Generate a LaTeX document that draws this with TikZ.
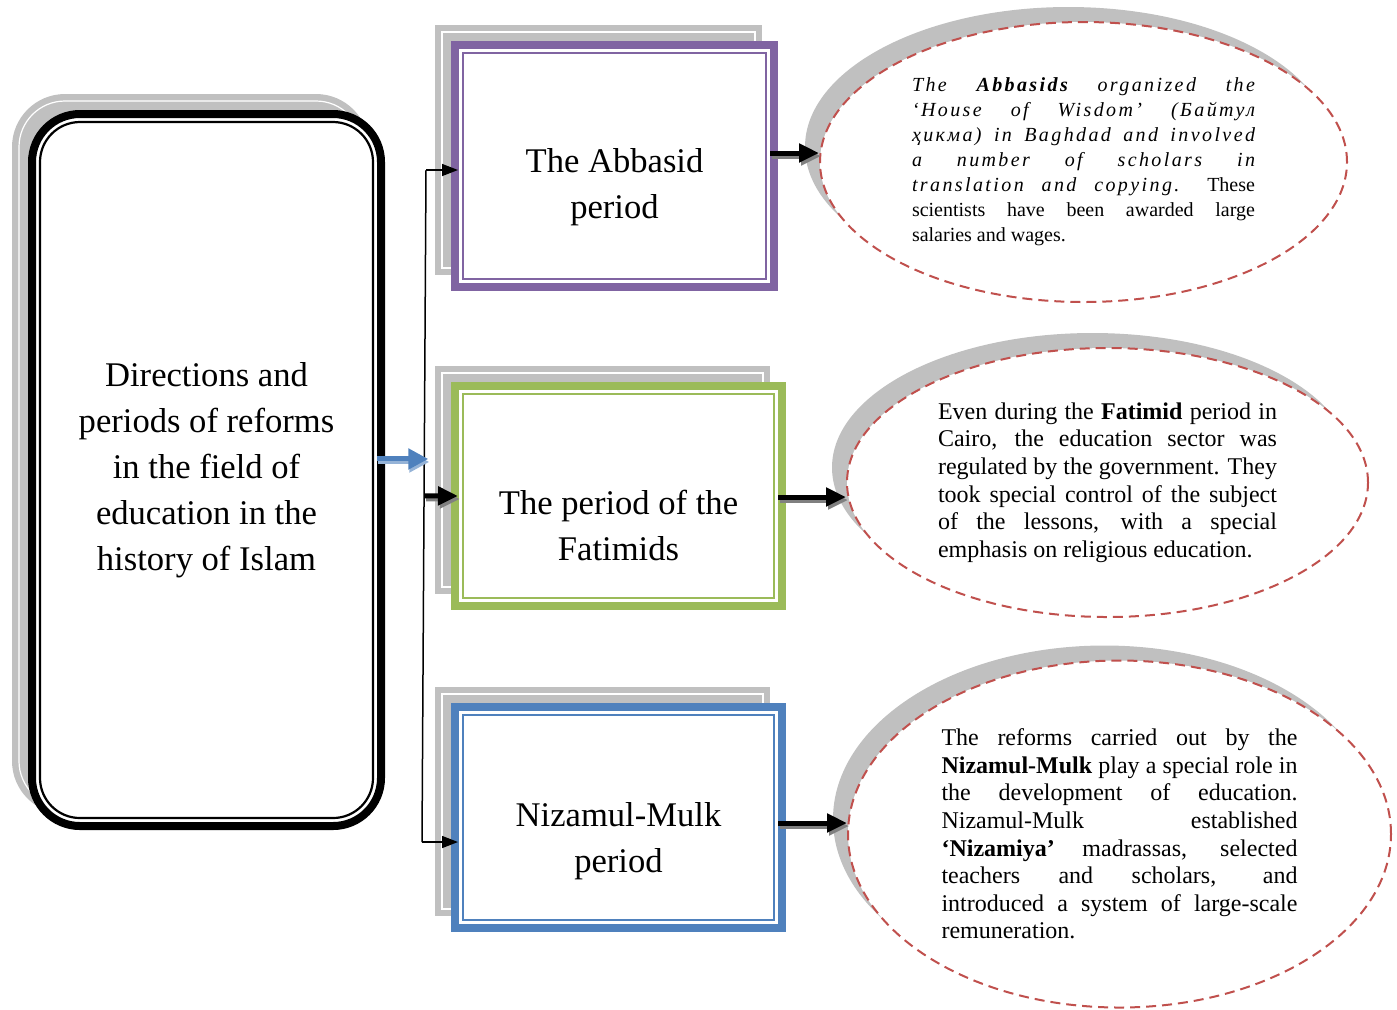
\documentclass[tikz,border=0pt]{standalone}
\usepackage{fontspec}
\setmainfont{Liberation Serif}
\usetikzlibrary{shapes.geometric, arrows.meta, shadows, backgrounds, calc}
\definecolor{abbpurple}{HTML}{8064A2}
\definecolor{fatgreen}{HTML}{9BBB59}
\definecolor{nizblue}{HTML}{4F81BD}
\definecolor{lightblue}{HTML}{95B3D7}
\definecolor{dashred}{HTML}{C0504D}
\definecolor{shadowgray}{HTML}{C0C0C0}

\tikzset{
	periodbox/.style={draw=#1, line width=4pt, fill=white, inner sep=0pt,
		path picture={\draw[#1, line width=1.3pt]
			([shift={(4pt,-4pt)}]path picture bounding box.north west) rectangle
			([shift={(-4pt,4pt)}]path picture bounding box.south east);}},
	mainbox/.style={draw=black, line width=4pt, fill=white, rounded corners=24pt,
		inner sep=0pt, align=center, font=\fontsize{17.3}{23}\selectfont,
		path picture={\draw[black, line width=1.1pt, rounded corners=20pt]
			([shift={(4pt,-4pt)}]path picture bounding box.north west) rectangle
			([shift={(-4pt,4pt)}]path picture bounding box.south east);}},
	boxlabel/.style={align=center, inner sep=0pt, font=\fontsize{17.3}{23}\selectfont},
	notecloud/.style={ellipse, draw=dashred, line width=1pt, dash pattern=on 5pt off 3pt,
		fill=white, inner sep=0pt, align=justify,
		execute at begin node={\tolerance=9999\hyphenpenalty=10000\exhyphenpenalty=10000},
		drop shadow={shadow xshift=-7.5pt, shadow yshift=7.5pt, fill=shadowgray, opacity=1}},
	hubline/.style={line width=0.75pt},
	thinarrow/.style={line width=0.75pt, -{Triangle[length=8pt, width=6pt]}},
	fatarrow/.style={line width=2.5pt, -{Triangle[length=10pt, width=9pt]}},
	fatshadow/.style={fatarrow, draw=gray, transform canvas={shift={(1pt,-1.5pt)}}},
	bluearrow/.style={draw=nizblue, line width=2.5pt, -{Triangle[length=10pt, width=10pt]}},
	blueshadow/.style={bluearrow, draw=lightblue, transform canvas={shift={(0.5pt,-1.5pt)}}}
}

\begin{document}
\begin{tikzpicture}[x=0.5pt, y=-0.5pt]
	\useasboundingbox (0,0) rectangle (1397,1009);
	
	% left box
	\node[mainbox, minimum width=174.5pt, minimum height=356pt] (main) at (206.5,470)
		{Directions and\\periods of reforms\\in the field of\\education in the\\history of Islam};
	
	% the three periods
	\node[periodbox=abbpurple, minimum width=159.5pt, minimum height=121pt] (abbasid) at (614.5,166) {};
	\node[periodbox=fatgreen, minimum width=163.5pt, minimum height=110pt] (fatimid) at (618.5,496) {};
	\node[periodbox=nizblue, minimum width=163.5pt, minimum height=110.5pt] (nizam) at (618.5,817.5) {};
	
	\node[boxlabel] (abbasidtxt) at ([yshift=-10.5pt]abbasid.center) {The Abbasid\\period};
	\node[boxlabel] (fatimidtxt) at ([yshift=-14.5pt]fatimid.center) {The period of the\\Fatimids};
	\node[boxlabel] (nizamtxt) at ([yshift=-12pt]nizam.center) {Nizamul-Mulk\\period};
	
	% shadows behind the boxes
	\begin{scope}[on background layer]
		\foreach \n in {abbasid,fatimid,nizam}{
			\fill[shadowgray] ([shift={(-8pt,8pt)}]\n.north west) rectangle ([shift={(-8pt,8pt)}]\n.south east);
			\draw[white, line width=0.6pt] ([shift={(-4.5pt,4.5pt)}]\n.north west) rectangle ([shift={(-11.5pt,11.5pt)}]\n.south east);
		}
		\fill[shadowgray, rounded corners=26.5pt] ([shift={(-8pt,8pt)}]main.north west) rectangle ([shift={(-8pt,8pt)}]main.south east);
		\draw[white, line width=0.6pt, rounded corners=23pt] ([shift={(-4.5pt,4.5pt)}]main.north west) rectangle ([shift={(-11.5pt,11.5pt)}]main.south east);
	\end{scope}
	
	% notes
	\node[notecloud, minimum width=263.5pt, minimum height=140pt, text width=171.5pt,
		font=\fontsize{10}{12.5}\selectfont] (abbtext) at (1083.5,162)
		{{\itshape\addfontfeatures{LetterSpace=12}The \textbf{Abbasids} organized the\linebreak
		‘House of Wisdom’ (Байтул\linebreak
		ҳикма) in Baghdad and involved\linebreak
		a number of scholars in\linebreak
		translation and copying.} These\linebreak
		scientists have been awarded large\linebreak
		salaries and wages.};
	\node[notecloud, minimum width=260.5pt, minimum height=134.5pt, text width=169.5pt,
		font=\fontsize{12}{13.8}\selectfont] (fattext) at (1107.5,482.5)
		{Even during the \textbf{Fatimid} period in\linebreak
		Cairo, the education sector was\linebreak
		regulated by the government. They\linebreak
		took special control of the subject\linebreak
		of the lessons, with a special\linebreak
		emphasis on religious education.};
	\node[notecloud, minimum width=271.5pt, minimum height=173.5pt, text width=178pt,
		font=\fontsize{12}{13.8}\selectfont] (niztext) at (1119.5,834)
		{The reforms carried out by the\linebreak
		\textbf{Nizamul-Mulk} play a special role in\linebreak
		the development of education.\linebreak
		Nizamul-Mulk established\linebreak
		\textbf{‘Nizamiya’} madrassas, selected\linebreak
		teachers and scholars, and\linebreak
		introduced a system of large-scale\linebreak
		remuneration.};
	
	% connectors
	\coordinate (tophub) at (426,170);
	\coordinate (bothub) at (422,842);
	\coordinate (mainhub) at ($(tophub)!0.43!(bothub)$);
	\coordinate (midhub) at ($(tophub)!(fatimid.west)!(bothub)$);
	\draw[hubline] (tophub) -- (bothub);
	\draw[thinarrow] (tophub) -- ([xshift=3.5pt]abbasid.west |- tophub);
	\draw[thinarrow] (bothub) -- ([xshift=3.5pt]nizam.west |- bothub);
	\draw[fatshadow] (midhub) -- ([xshift=3.5pt]fatimid.west);
	\draw[fatarrow] (midhub) -- ([xshift=3.5pt]fatimid.west);
	\draw[blueshadow] ([xshift=-4pt]main.east |- mainhub) -- ([xshift=2pt]mainhub);
	\draw[bluearrow] ([xshift=-4pt]main.east |- mainhub) -- ([xshift=2pt]mainhub);
	
	\foreach \src/\dst/\yy in {abbasid/abbtext/153, fatimid/fattext/497, nizam/niztext/823}{
		\draw[fatshadow] ([xshift=-4pt]\src.east |- 0,\yy) -- (\dst.west |- 0,\yy);
		\draw[fatarrow] ([xshift=-4pt]\src.east |- 0,\yy) -- (\dst.west |- 0,\yy);
	}
\end{tikzpicture}
\end{document}
